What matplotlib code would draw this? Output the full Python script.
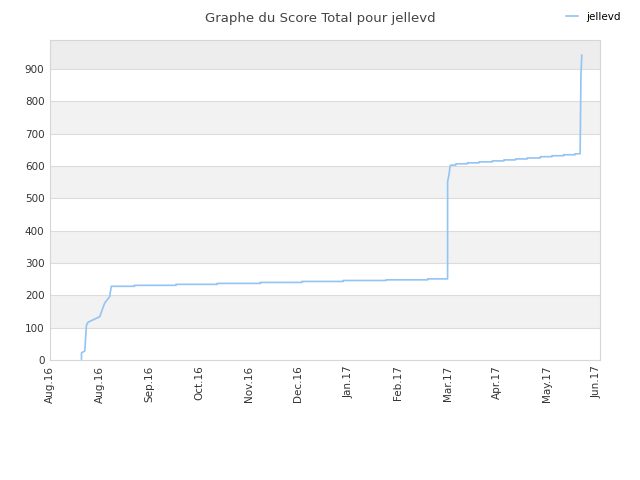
import matplotlib
matplotlib.use("Agg")
import matplotlib.pyplot as plt

# score history, x = days since the first tick
days = [19, 19, 21, 22, 23, 30, 33, 36, 37,
        51, 51, 76, 76, 101, 101, 127, 127, 152, 152, 177, 177, 203, 203, 228, 228,
        240, 240, 241, 241.5, 242,
        245, 245, 252, 252, 259, 259, 267, 267, 274, 274, 281, 281, 288, 288,
        296, 296, 303, 303, 310, 310, 317, 317, 320, 320.5, 321]
scores = [3, 22, 28, 108, 117, 134, 176, 196, 228,
          228, 231, 231, 234, 234, 237, 237, 240, 240, 243, 243, 246, 246, 248, 248, 251,
          251, 551, 578, 600, 603,
          603, 607, 607, 610, 610, 613, 613, 616, 616, 619, 619, 622, 622, 625,
          625, 629, 629, 632, 632, 635, 635, 638, 638, 881, 943]

tick_days = [0, 30, 60, 90, 120, 150, 180, 210, 240, 270, 300, 330]
tick_labels = ["Aug.16", "Aug.16", "Sep.16", "Oct.16", "Nov.16", "Dec.16",
               "Jan.17", "Feb.17", "Mar.17", "Apr.17", "May.17", "Jun.17"]
y_ticks = [0, 100, 200, 300, 400, 500, 600, 700, 800, 900]

fig = plt.figure(figsize=(6.4, 4.8), dpi=100)
ax = fig.add_axes([50/640, 120/480, 550/640, 320/480])

ymax = 990
for lo in range(100, 1000, 200):
    ax.axhspan(lo, min(lo + 100, ymax), color="#ededed" if lo == 900 else "#f2f2f2", lw=0, zorder=0)
for y in y_ticks[1:]:
    ax.axhline(y, color="#dcdcdc", lw=0.8, zorder=1)

ax.plot(days, scores, color="#92c4f4", lw=1.2, zorder=3, label="jellevd")

ax.set_xlim(0, 332)
ax.set_ylim(0, ymax)
ax.set_xticks(tick_days)
ax.set_xticklabels(tick_labels, rotation=90)
ax.set_yticks(y_ticks)
ax.tick_params(length=0, labelsize=7.5, colors="#333333", pad=4)
for s in ax.spines.values():
    s.set_color("#d6d6d6")
    s.set_linewidth(0.8)

fig.text(0.5, 0.975, "Graphe du Score Total pour jellevd", ha="center", va="top",
         fontsize=9.5, color="#444444")
fig.legend(loc="upper right", bbox_to_anchor=(0.985, 0.995), frameon=False,
           fontsize=7.5, handlelength=1.2, handletextpad=0.8)

fig.savefig("out.png", dpi=100)
